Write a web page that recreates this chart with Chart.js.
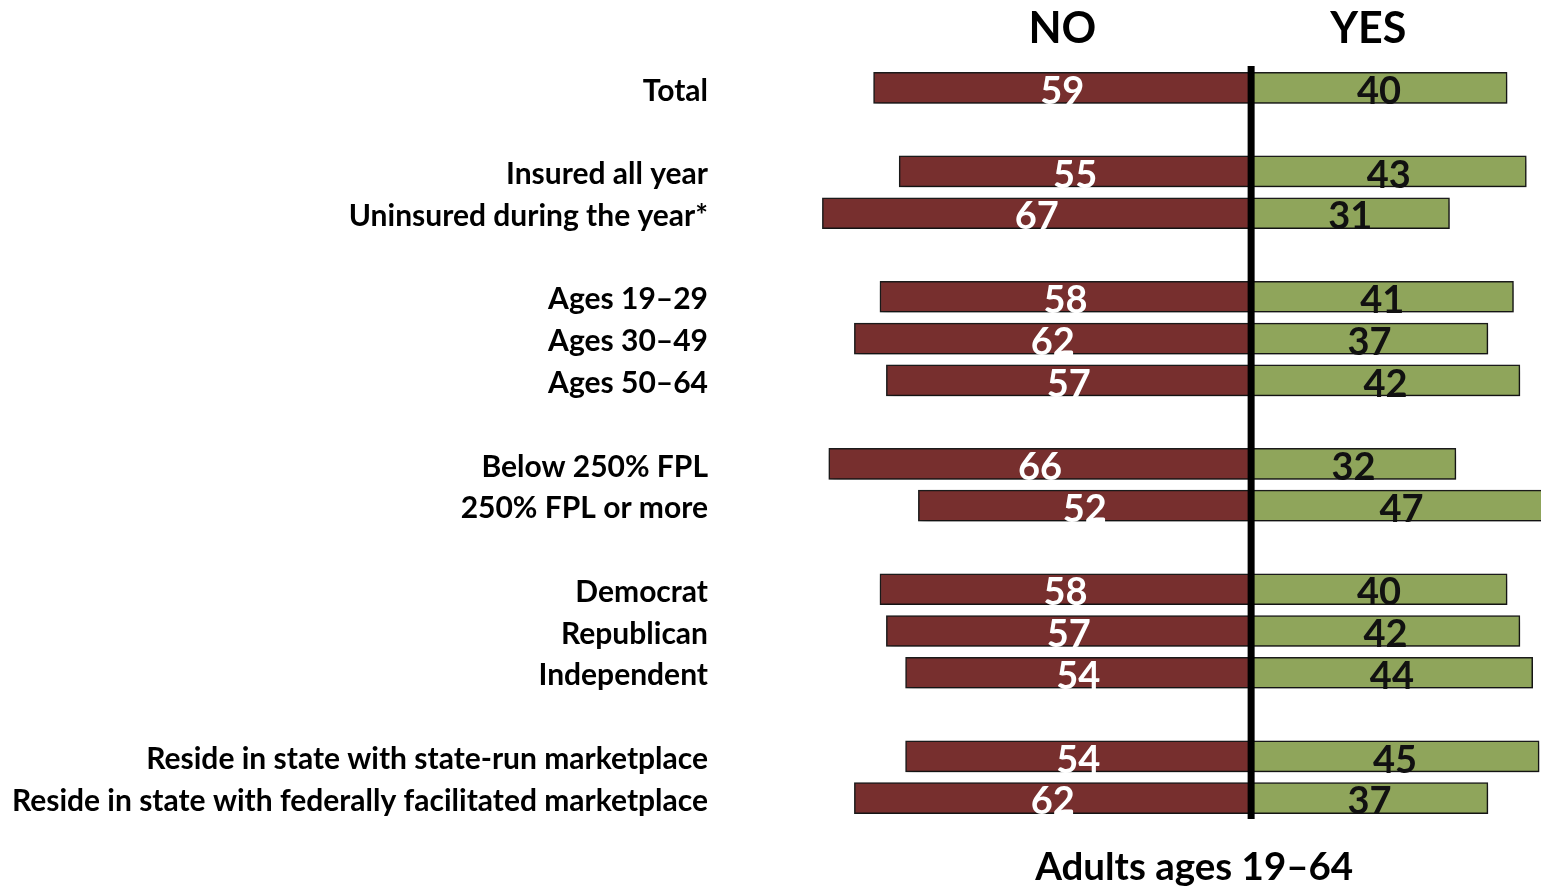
<!DOCTYPE html>
<html>
<head>
<meta charset="utf-8">
<script src="https://cdn.jsdelivr.net/npm/chart.js@4/dist/chart.umd.min.js"></script>
<style>
  body { margin: 0; background: #fff; }
  #wrap { width: 1541px; height: 889px; }
</style>
</head>
<body>
<div id="wrap"><canvas id="chart"></canvas></div>
<script>
// blank strings are spacer rows between groups
var categories = [
    'Total', '',
    'Insured all year', 'Uninsured during the year*', '',
    'Ages 19\u201329', 'Ages 30\u201349', 'Ages 50\u201364', '',
    'Below 250% FPL', '250% FPL or more', '',
    'Democrat', 'Republican', 'Independent', '',
    'Reside in state with state-run marketplace',
    'Reside in state with federally facilitated marketplace'
];
var noValues  = [59, null, 55, 67, null, 58, 62, 57, null, 66, 52, null, 58, 57, 54, null, 54, 62];
var yesValues = [40, null, 43, 31, null, 41, 37, 42, null, 32, 47, null, 40, 42, 44, null, 45, 37];
var headers = ['NO', 'YES'];
var chartTitle = 'Adults ages 19\u201364';

var FONT = 'Lato, "Open Sans", sans-serif';

var shadowPlugin = {
    id: 'shadow',
    beforeDatasetsDraw: function(chart) {
        var ctx = chart.ctx;
        ctx.save();
        ctx.shadowColor = 'rgba(0,0,0,0.4)';
        ctx.shadowBlur = 7;
        ctx.shadowOffsetX = 2;
        ctx.shadowOffsetY = 4;
    },
    afterDatasetsDraw: function(chart) {
        chart.ctx.restore();
    }
};

var decorPlugin = {
    id: 'decor',
    afterDatasetsDraw: function(chart) {
        var ctx = chart.ctx;
        var x = chart.scales.x;
        var area = chart.chartArea;

        // value labels
        ctx.save();
        ctx.font = 'bold 38px ' + FONT;
        ctx.textAlign = 'center';
        ctx.textBaseline = 'middle';
        chart.data.datasets.forEach(function(ds, di) {
            var meta = chart.getDatasetMeta(di);
            meta.data.forEach(function(bar, i) {
                if (ds.raw[i] == null) return;
                var c = bar.getCenterPoint();
                ctx.fillStyle = di === 0 ? '#ffffff' : '#111111';
                ctx.fillText(String(ds.raw[i]), c.x, c.y + 4);
            });
        });
        ctx.restore();

        // center divider
        var zx = x.getPixelForValue(0);
        ctx.save();
        ctx.strokeStyle = '#000';
        ctx.lineWidth = 7;
        ctx.beginPath();
        ctx.moveTo(zx, area.top - 1);
        ctx.lineTo(zx, area.bottom);
        ctx.stroke();
        ctx.restore();

        // headers and bottom title
        ctx.save();
        ctx.fillStyle = '#000';
        ctx.textAlign = 'center';
        ctx.textBaseline = 'middle';
        ctx.font = 'bold 43px ' + FONT;
        ctx.fillText(headers[0], x.getPixelForValue(-29.5), 29);
        ctx.fillText(headers[1], x.getPixelForValue(18.3), 29);
        ctx.font = 'bold 38.5px ' + FONT;
        ctx.fillText(chartTitle, x.getPixelForValue(-8.9), 868);
        ctx.restore();
    }
};

new Chart(document.getElementById('chart'), {
    type: 'bar',
    data: {
        labels: categories,
        datasets: [{
            label: 'NO',
            data: noValues.map(function(v) { return v == null ? null : -v; }),
            raw: noValues,
            backgroundColor: '#772f2e',
            borderColor: '#1c1c1c',
            borderWidth: 1.5,
            borderSkipped: false,
            barThickness: 31
        }, {
            label: 'YES',
            data: yesValues,
            raw: yesValues,
            backgroundColor: '#8fa55b',
            borderColor: '#1c1c1c',
            borderWidth: 1.5,
            borderSkipped: false,
            barThickness: 31
        }]
    },
    options: {
        indexAxis: 'y',
        responsive: true,
        maintainAspectRatio: false,
        animation: false,
        layout: { padding: { top: 67, bottom: 70, left: 0, right: 0 } },
        plugins: {
            legend: { display: false },
            tooltip: { enabled: false },
            title: { display: false }
        },
        scales: {
            x: {
                stacked: true,
                min: -83,
                max: 45.3,
                display: false
            },
            y: {
                stacked: true,
                grid: { display: false, drawTicks: false },
                border: { display: false },
                ticks: {
                    autoSkip: false,
                    padding: 12,
                    labelOffset: 3,
                    color: '#000',
                    font: { family: FONT, weight: 'bold', size: 30 }
                },
                afterFit: function(scale) { scale.width = 720; }
            }
        }
    },
    plugins: [shadowPlugin, decorPlugin]
});
</script>
</body>
</html>
